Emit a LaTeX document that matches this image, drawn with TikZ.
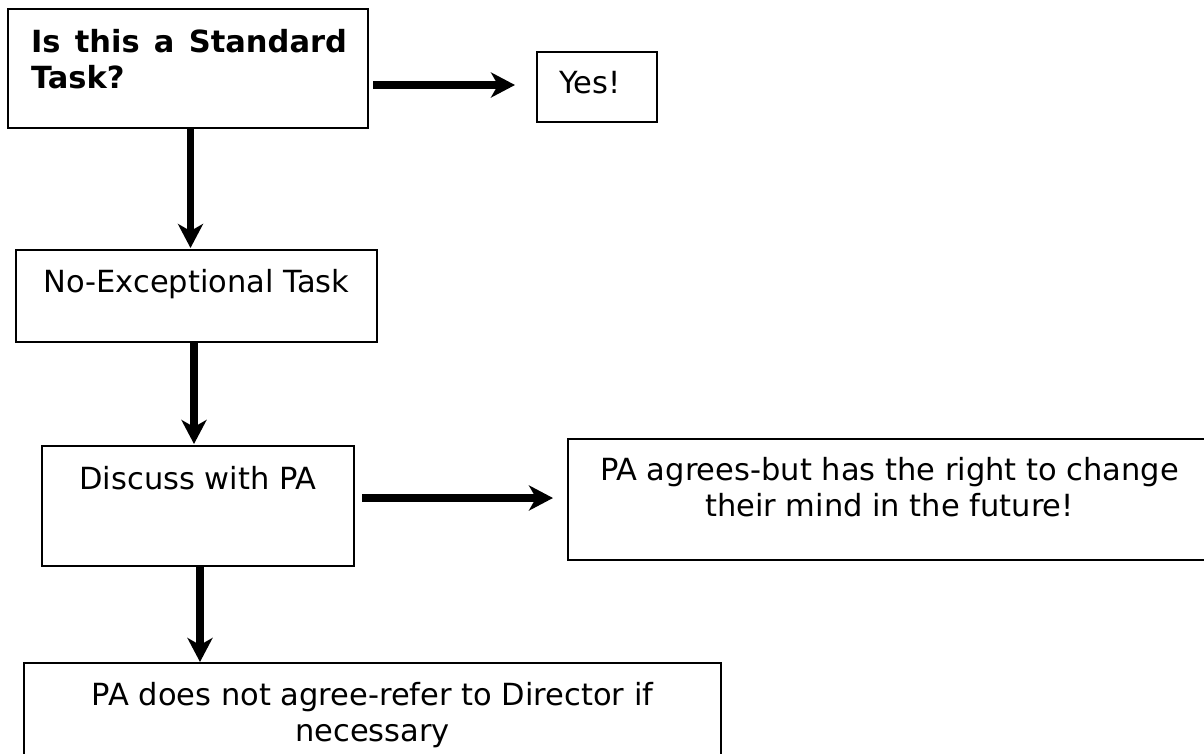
\documentclass[tikz,border=0pt]{standalone}
\usepackage{fontspec}
\setmainfont{DejaVu Sans}
\usetikzlibrary{arrows.meta}
\begin{document}
\begin{tikzpicture}[x=1pt,y=-1pt,
 box/.style={draw=black,line width=2.2pt,rectangle,inner sep=0pt,outer sep=0pt},
 txt/.style={inner sep=0pt,outer sep=0pt,font=\fontsize{30.5}{36}\selectfont},
 txtb/.style={inner sep=0pt,outer sep=0pt,font=\fontsize{30.5}{36}\selectfont\bfseries},
 arr/.style={line width=7.5pt,-{Stealth[length=24pt,width=25pt,inset=7pt]}}]
\useasboundingbox[fill=white] (0,0) rectangle (1204,753);
\begin{scope}
\clip (0,0) rectangle (1204,753);
% boxes
\node[box,minimum width=360pt,minimum height=119pt] (q) at (188,68.5) {};
\node[box,minimum width=120pt,minimum height=70pt] (yes) at (597,87) {};
\node[box,minimum width=361pt,minimum height=92pt] (noex) at (196.5,296) {};
\node[box,minimum width=312pt,minimum height=120pt] (disc) at (198,506) {};
\node[box,minimum width=643pt,minimum height=121pt] (agree) at (889.5,499.5) {};
\node[box,minimum width=697pt,minimum height=110pt] (nagree) at (372.5,718) {};
% texts
\node[txtb,anchor=base west] (qt1) at (31,52) {\hbox to 316pt{Is\hfill this\hfill a\hfill Standard}};
\node[txtb,anchor=base west] (qt2) at (31,88) {Task?};
\node[txt,anchor=base west] (yest) at (559,93) {Yes!};
\node[txt,anchor=base] (noext) at (196.5,292) {No-Exceptional Task};
\node[txt,anchor=base] (disct) at (198,489) {Discuss with PA};
\node[txt,anchor=base] (agt1) at (889.5,480) {PA agrees-but has the right to change};
\node[txt,anchor=base] (agt2) at (889.5,516) {their mind in the future!};
\node[txt,anchor=base] (nat1) at (372.5,705) {PA does not agree-refer to Director if};
\node[txt,anchor=base] (nat2) at (372.5,741) {necessary};
% arrows
\draw[arr,shorten <=5pt,shorten >=22pt] ([yshift=-16.5pt]q.east) -- ([yshift=2pt]yes.west);
\draw[arr,shorten <=1pt,shorten >=2pt] ([xshift=2.5pt]q.south) -- ([xshift=-6pt]noex.north);
\draw[arr,shorten <=1pt,shorten >=2pt] ([xshift=-2.5pt]noex.south) -- ([xshift=-4pt]disc.north);
\draw[arr,shorten <=8pt,shorten >=15pt] ([yshift=8pt]disc.east) -- ([yshift=1.5pt]agree.west);
\draw[arr,shorten <=1pt,shorten >=1pt] ([xshift=2pt]disc.south) -- ([xshift=-172.5pt]nagree.north);
\end{scope}
\end{tikzpicture}
\end{document}
